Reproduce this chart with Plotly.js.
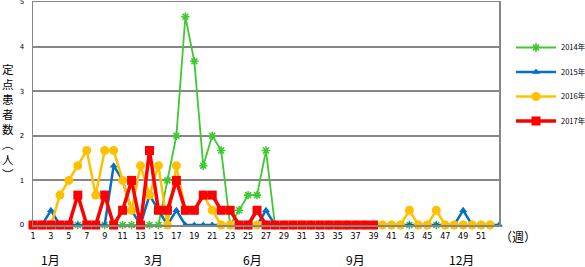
<!DOCTYPE html>
<html>
<head>
<meta charset="utf-8">
<script src="https://cdn.plot.ly/plotly-3.0.1.min.js"></script>
<style>html,body{margin:0;padding:0;background:#fff;}#chart{width:585px;height:267px;}</style>
</head>
<body>
<div id="chart"></div>
<script>
// ---- data ----
const seriesNames = ["2014年", "2015年", "2016年", "2017年"];
const weekTicks = [1,3,5,7,9,11,13,15,17,19,21,23,25,27,29,31,33,35,37,39,41,43,45,47,49,51];
const monthLabels = ["1月", "3月", "6月", "9月", "12月"];
const monthWeeks = [2.9, 14.4, 25.5, 37, 48.8];

const v2014 = [0,0,0,0,0,0,0,0,0,0,0,0,0,0,0,1.0,2.0,4.67,3.67,1.33,2.0,1.67,0,0.33,0.67,0.67,1.67,0,0,0,0,0,0,0,0,0,0,0,0,0,0,0,0,0,0,0,0,0,0,0,0,0];
const v2015 = [0,0,0.33,0,0,0,0,0,0,1.33,1.0,0.33,0,0.67,0.33,0,0.33,0,0,0,0,0,0,0,0,0,0.33,0,0,0,0,0,0,0,0,0,0,0,0,0,0,0,0,0,0,0,0,0,0.33,0,0,0,0];
const v2016 = [0,0,0,0.67,1.0,1.33,1.67,0.67,1.67,1.67,1.0,0.33,1.33,0.67,1.33,0,1.33,0.33,0.33,0.67,0.33,0,0,0,0,0,0,0,0,0,0,0,0,0,0,0,0,0,0,0,0,0,0.33,0,0,0.33,0,0,0,0,0,0];
const v2017 = [0,0,0,0,0,0.67,0,0,0.67,0,0.33,1.0,0,1.67,0.33,0.33,1.0,0.33,0.33,0.67,0.67,0.33,0.33,0,0,0.33,0,0,0,0,0,0,0,0,0,0,0,0,0];

const weeksOf = arr => arr.map((_, i) => i + 1);

const colors = ["#40C832", "#0070C0", "#FFC000", "#FF0000"];
const values = [v2014, v2015, v2016, v2017];
const symbols = ["asterisk-open", "triangle-up", "circle", "square"];
const msizes = [7, 7, 9, 9];
const lwidths = [1.8, 2.5, 2.5, 3.5];

const traces = values.map((v, i) => ({
  type: "scatter", mode: "lines+markers",
  x: weeksOf(v), y: v, name: seriesNames[i],
  legendgroup: "g" + i,
  cliponaxis: false,
  line: {color: colors[i], width: lwidths[i]},
  marker: {symbol: symbols[i], size: msizes[i], color: colors[i],
           line: {color: colors[i], width: i === 0 ? 1.6 : 0}}
}));

const PL = 33, PT = 2, PW = 466, PH = 223;
const px = x => (x - PL) / PW;
const py = y => (PT + PH - y) / PH;

const ann = [];
monthLabels.forEach((m, i) => ann.push({
  x: monthWeeks[i], xref: "x", y: py(259), yref: "paper", text: m, showarrow: false,
  xanchor: "center", yanchor: "middle", font: {family: "Noto Sans CJK JP", size: 12, color: "#000"}
}));
ann.push({x: px(518), xref: "paper", y: py(237), yref: "paper", text: "（週）", showarrow: false,
  xanchor: "center", yanchor: "middle", font: {family: "Noto Sans CJK JP", size: 12, color: "#000"}});

const yTitleChars = ["定", "点", "患", "者", "数", "︵", "人", "︶"];
ann.push({
  x: px(8), xref: "paper", y: py(121), yref: "paper", text: yTitleChars.join("<br>"), showarrow: false,
  xanchor: "center", yanchor: "middle", align: "center",
  font: {family: "Noto Sans CJK JP", size: 11.5, color: "#000"}
});

const layout = {
  width: 585, height: 267,
  margin: {l: PL, r: 585 - PL - PW, t: PT, b: 267 - PT - PH, pad: 0},
  paper_bgcolor: "#fff", plot_bgcolor: "#fff",
  showlegend: true,
  legend: {xref: "container", yref: "container", x: 511 / 585, xanchor: "left", y: 1 - 33 / 267, yanchor: "top",
           font: {family: "Noto Sans CJK JP", size: 7.5, color: "#000"},
           itemwidth: 40, tracegroupgap: 5.5, bgcolor: "rgba(0,0,0,0)"},
  xaxis: {range: [1, 53], tickvals: weekTicks, ticktext: weekTicks.map(String),
          showgrid: false, zeroline: false, showline: true, mirror: true,
          linecolor: "#868686", linewidth: 1.5, ticks: "", ticklabelstandoff: 3,
          tickfont: {family: "DejaVu Sans", size: 8, color: "#000"}},
  yaxis: {range: [0, 5], dtick: 1, showgrid: true, gridcolor: "#868686", gridwidth: 2,
          zeroline: false, showline: true, mirror: true, linecolor: "#868686", linewidth: 1.5,
          ticks: "", ticklabelstandoff: 6, ticklabeloverflow: "allow",
          tickfont: {family: "DejaVu Sans", size: 7, color: "#000"}},
  annotations: ann
};

Plotly.newPlot("chart", traces, layout, {displayModeBar: false, staticPlot: true});
</script>
</body>
</html>
